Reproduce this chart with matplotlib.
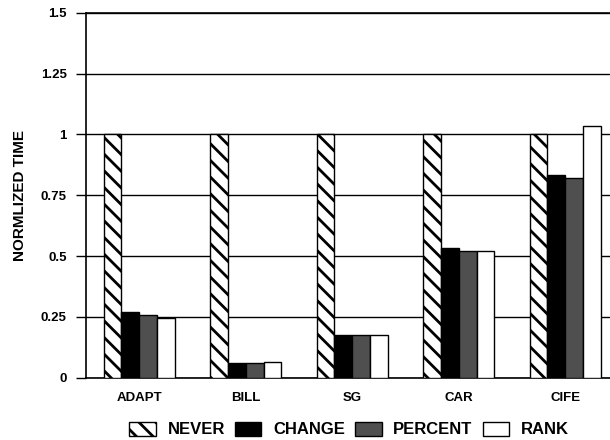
import matplotlib
matplotlib.use("Agg")
import matplotlib.pyplot as plt
import numpy as np

# data
programs = ['ADAPT', 'BILL', 'SG', 'CAR', 'CIFE']
never = [1.0, 1.0, 1.0, 1.0, 1.0]
change = [0.269, 0.059, 0.175, 0.532, 0.834]
percent = [0.258, 0.059, 0.175, 0.522, 0.820]
rank = [0.244, 0.063, 0.175, 0.520, 1.036]
yticks = [0, 0.25, 0.5, 0.75, 1, 1.25, 1.5]
ytick_labels = ['0', '0.25', '0.5', '0.75', '1', '1.25', '1.5']

plt.rcParams['font.family'] = ['Liberation Sans', 'DejaVu Sans']
plt.rcParams['hatch.linewidth'] = 2.0

fig = plt.figure(figsize=(6.1, 4.4), dpi=100)
# axes runs a bit past the right edge, like the scanned original
ax = fig.add_axes([86 / 610, (440 - 377.7) / 440, (618.5 - 86) / 610, 365 / 440])

x = np.arange(len(programs))
w = 0.167
ax.bar(x - 1.5 * w, never, w, facecolor='white', edgecolor='black', hatch='\\\\',
       linewidth=1, label='NEVER', zorder=3)
ax.bar(x - 0.5 * w, change, w, facecolor='black', edgecolor='black',
       linewidth=1, label='CHANGE', zorder=3)
ax.bar(x + 0.5 * w, percent, w, facecolor='#4f4f4f', edgecolor='black',
       linewidth=1, label='PERCENT', zorder=3)
ax.bar(x + 1.5 * w, rank, w, facecolor='white', edgecolor='black',
       linewidth=1, label='RANK', zorder=3)

ax.set_xlim(-0.5, 4.5)
ax.set_ylim(0, 1.5)
ax.set_yticks(yticks)
ax.set_yticklabels(ytick_labels, fontsize=9.5, fontweight='bold')
ax.set_xticks(x)
ax.set_xticklabels(programs, fontsize=9.5, fontweight='bold')
ax.tick_params(axis='x', length=0, pad=10)
ax.tick_params(axis='y', length=7, width=1, pad=7, direction='out')
ax.yaxis.grid(True, color='black', linewidth=1, zorder=0)
ax.set_axisbelow(True)
ax.spines['right'].set_visible(False)
for s in ['left', 'bottom', 'top']:
    ax.spines[s].set_linewidth(1.2)

ax.set_ylabel('NORMLIZED TIME', fontsize=11, fontweight='bold', labelpad=10)

fig.legend(loc='center', bbox_to_anchor=(349 / 610, 1 - 429.5 / 440), ncol=4,
           frameon=False, prop={'size': 12, 'weight': 'bold'},
           handlelength=1.6, handleheight=0.9, handletextpad=0.7,
           columnspacing=0.6)

fig.savefig('out.png', dpi=100)
